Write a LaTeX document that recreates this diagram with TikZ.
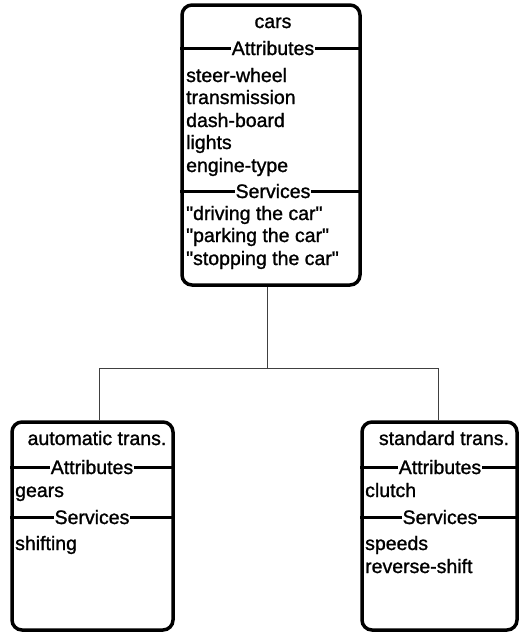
\documentclass[tikz,border=0pt]{standalone}
\usepackage{fontspec}
\setmainfont{Liberation Sans}
\newfontfamily\labfont{Liberation Sans}[FakeBold=1.2]
\newcommand{\dq}{\symbol{34}}
\begin{document}
\begin{tikzpicture}[x=1pt,y=-1pt,
  box/.style={draw, line width=3.5pt, rounded corners=10pt, inner sep=0pt},
  txt/.style={anchor=base west, inner sep=0pt, font=\labfont\fontsize{19.5}{22}\selectfont},
  ttl/.style={anchor=base, inner sep=0pt, font=\labfont\fontsize{19.5}{22}\selectfont},
  sep/.style={line width=3pt},
  seplabel/.style={anchor=base, fill=white, inner xsep=1pt, inner ysep=1pt, font=\labfont\fontsize{19.5}{22}\selectfont},
  conn/.style={line width=0.7pt, draw=black!75}]
\useasboundingbox (0,0) rectangle (519,633);

% top box
\node[box, minimum width=178pt, minimum height=280pt] (cars) at (271,145) {};
\node[ttl] (carsT) at (273,28) {cars};
\draw[sep] (cars.west |- 0,48) -- (cars.east |- 0,48);
\node[seplabel] (carsA) at (273,55) {Attributes};
\node[txt] (c1) at (186,82) {steer-wheel};
\node[txt] (c2) at (186,104) {transmission};
\node[txt] (c3) at (186,127) {dash-board};
\node[txt] (c4) at (186,149) {lights};
\node[txt] (c5) at (186,172) {engine-type};
\draw[sep] (cars.west |- 0,191) -- (cars.east |- 0,191);
\node[seplabel] (carsS) at (273,198) {Services};
\node[txt] (c6) at (186,220) {\dq driving the car\dq};
\node[txt] (c7) at (186,242) {\dq parking the car\dq};
\node[txt] (c8) at (186,265) {\dq stopping the car\dq};

% bottom left box
\node[box, minimum width=161pt, minimum height=208pt] (auto) at (92.5,526) {};
\node[ttl] (autoT) at (97,445) {automatic trans.};
\draw[sep] (auto.west |- 0,467) -- (auto.east |- 0,467);
\node[seplabel] (autoA) at (92,474) {Attributes};
\node[txt] (a1) at (15,497) {gears};
\draw[sep] (auto.west |- 0,517) -- (auto.east |- 0,517);
\node[seplabel] (autoS) at (92,524) {Services};
\node[txt] (a2) at (15,550) {shifting};

% bottom right box
\node[box, minimum width=155pt, minimum height=208pt] (std) at (439.5,526) {};
\node[ttl] (stdT) at (444,445) {standard trans.};
\draw[sep] (std.west |- 0,467) -- (std.east |- 0,467);
\node[seplabel] (stdA) at (440,474) {Attributes};
\node[txt] (s1) at (365,497) {clutch};
\draw[sep] (std.west |- 0,517) -- (std.east |- 0,517);
\node[seplabel] (stdS) at (440,524) {Services};
\node[txt] (s2) at (365,550) {speeds};
\node[txt] (s3) at (365,573) {reverse-shift};

% connectors
\coordinate (busL) at (99,368);
\coordinate (busR) at (438,368);
\coordinate (busM) at (267,368);
\draw[conn] (busM |- cars.south) -- (busM);
\draw[conn] (busL) -- (busR);
\draw[conn] (busL) -- (busL |- auto.north);
\draw[conn] (busR) -- (busR |- std.north);
\end{tikzpicture}
\end{document}
